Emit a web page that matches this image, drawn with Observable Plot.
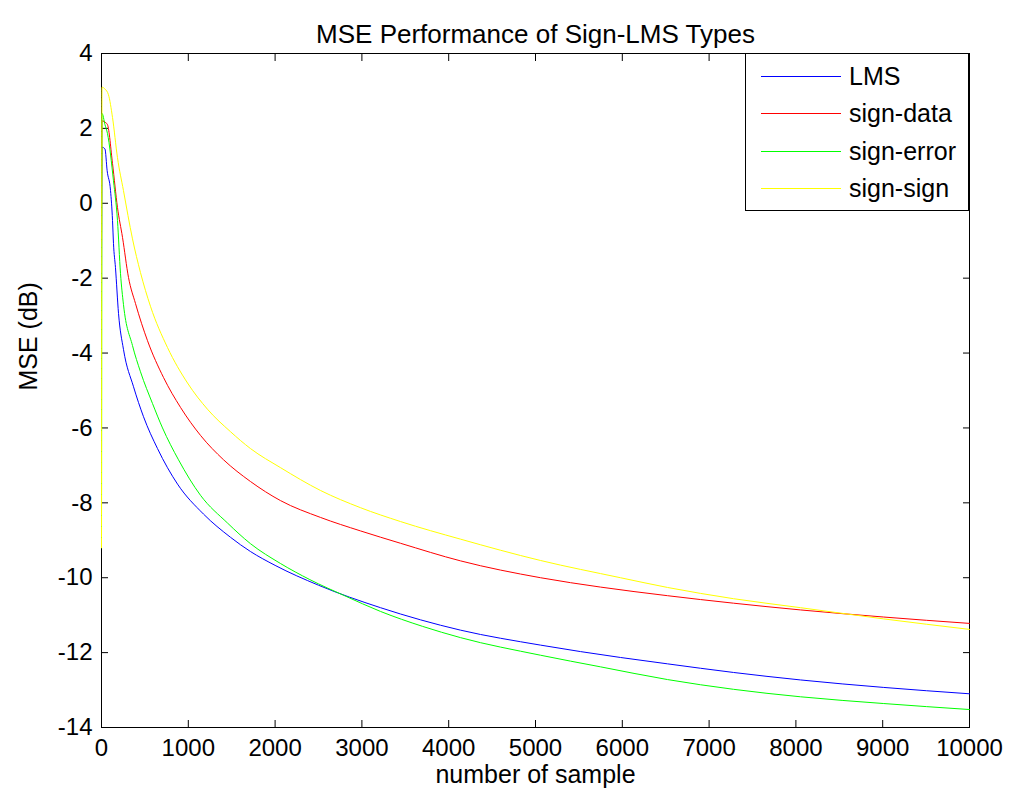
<!DOCTYPE html>
<html>
<head>
<meta charset="utf-8">
<script src="https://cdn.jsdelivr.net/npm/d3@7"></script>
<script src="https://cdn.jsdelivr.net/npm/@observablehq/plot@0.6"></script>
<style>
html, body { margin: 0; padding: 0; background: #fff; }
#wrap { position: relative; width: 1018px; height: 796px; font-family: "Liberation Sans", Arial, Helvetica, sans-serif; }
#legend { position: absolute; left: 745px; top: 53px; width: 224px; height: 158px; border: 1px solid #000; background: #fff; box-sizing: border-box; }
.row { position: absolute; left: 0; height: 0; }
.sw { position: absolute; left: 15px; width: 80px; top: 0; border-top: 1px solid; }
.lab { position: absolute; left: 103px; top: 0; font-size: 25px; line-height: 25px; transform: translateY(-50%); white-space: nowrap; color: #000; }
</style>
</head>
<body>
<div id="wrap"></div>
<script>
// ---- data ----
const titleText = "MSE Performance of Sign-LMS Types";
const xLabel = "number of sample";
const yLabel = "MSE (dB)";
const xTicks = [0, 1000, 2000, 3000, 4000, 5000, 6000, 7000, 8000, 9000, 10000];
const yTicks = [-14, -12, -10, -8, -6, -4, -2, 0, 2, 4];

const seriesNames = ["LMS", "sign-data", "sign-error", "sign-sign"];
const seriesColors = ["#0000ff", "#ff0000", "#00ff00", "#ffff00"];

const lmsSamples = [0, 6, 40, 65, 104, 127, 138, 161, 196, 253, 369, 484, 645, 876, 1175, 1486, 1716, 2000, 2500, 3214, 4136, 5058, 5979, 6521, 7281, 8053, 9012, 10000];
const lmsMSE     = [-2.4, 1.5, 1.45, 0.87, 0.34, -0.46, -1.07, -1.72, -2.94, -3.9, -4.9, -5.7, -6.55, -7.5, -8.3, -8.92, -9.3, -9.67, -10.2, -10.8, -11.4, -11.8, -12.13, -12.3, -12.53, -12.73, -12.93, -13.1];

const signDataSamples = [0, 6, 50, 69, 127, 184, 242, 311, 392, 530, 714, 910, 1141, 1406, 1716, 2062, 2523, 2984, 3445, 4136, 5058, 5749, 6521, 7281, 8053, 9012, 10000];
const signDataMSE     = [-1.0, 2.2, 2.15, 2.1, 1.06, -0.11, -0.91, -1.98, -2.68, -3.67, -4.65, -5.45, -6.2, -6.85, -7.43, -7.94, -8.39, -8.75, -9.08, -9.55, -10.0, -10.25, -10.48, -10.68, -10.86, -11.05, -11.22];

const signErrorSamples = [0, 6, 40, 69, 138, 184, 219, 253, 357, 449, 588, 703, 887, 1141, 1452, 1716, 2062, 2400, 2800, 3214, 3700, 4136, 5058, 5749, 6521, 7281, 8053, 9012, 10000];
const signErrorMSE     = [-9.2, 2.4, 2.1, 1.86, 0.6, -0.46, -1.88, -2.7, -3.8, -4.5, -5.35, -6.0, -6.85, -7.8, -8.54, -9.09, -9.62, -10.05, -10.48, -10.9, -11.3, -11.6, -12.07, -12.38, -12.72, -12.98, -13.18, -13.36, -13.52];

const signSignSamples = [0, 6, 40, 80, 127, 184, 253, 357, 449, 564, 760, 991, 1221, 1486, 1716, 2062, 2523, 2984, 3445, 4136, 5058, 5979, 6521, 7281, 8053, 9012, 10000];
const signSignMSE     = [-9.2, 3.1, 3.05, 2.9, 2.29, 1.22, 0.34, -0.95, -1.85, -2.75, -3.85, -4.8, -5.5, -6.1, -6.55, -7.06, -7.67, -8.13, -8.5, -8.97, -9.54, -10.0, -10.26, -10.56, -10.8, -11.1, -11.38];

const allSamples = [lmsSamples, signDataSamples, signErrorSamples, signSignSamples];
const allMSE = [lmsMSE, signDataMSE, signErrorMSE, signSignMSE];

// ---- build tables ----
const series = seriesNames.map((name, k) => ({
  name,
  color: seriesColors[k],
  data: allSamples[k].map((s, i) => ({s, v: allMSE[k][i]}))
}));

const fmt = d => String(d);
const font = "Liberation Sans, Arial, Helvetica, sans-serif";

const chart = Plot.plot({
  width: 1018,
  height: 796,
  marginTop: 53,
  marginRight: 49,
  marginBottom: 69,
  marginLeft: 101,
  style: {fontFamily: font, fontSize: "24px", color: "#000", background: "#fff", overflow: "visible"},
  x: {domain: [0, 10000]},
  y: {domain: [-14, 4]},
  marks: [
    Plot.frame({stroke: "#000", strokeWidth: 1}),
    // inward ticks on all four sides
    Plot.axisX(xTicks, {anchor: "bottom", tickSize: 7, dy: -7, fill: "none", label: null, stroke: "#000"}),
    Plot.axisX(xTicks, {anchor: "top", tickSize: 7, dy: 7, fill: "none", label: null, stroke: "#000"}),
    Plot.axisY(yTicks, {anchor: "left", tickSize: 7, dx: 7, fill: "none", label: null, stroke: "#000"}),
    Plot.axisY(yTicks, {anchor: "right", tickSize: 7, dx: -7, fill: "none", label: null, stroke: "#000"}),
    // tick labels
    Plot.axisX(xTicks, {anchor: "bottom", tickSize: 0, tickPadding: 11, tickFormat: fmt, label: null, fill: "#000", fontSize: 24}),
    Plot.axisY(yTicks, {anchor: "left", tickSize: 0, tickPadding: 9, tickFormat: fmt, label: null, fill: "#000", fontSize: 24}),
    // data lines
    ...series.map(sr => Plot.line(sr.data, {x: "s", y: "v", stroke: sr.color, strokeWidth: 1, curve: "monotone-x"})),
    // title and axis labels
    Plot.text([titleText], {frameAnchor: "top", dy: -29, fontSize: 26, fill: "#000"}),
    Plot.text([xLabel], {frameAnchor: "bottom", dy: 55, fontSize: 25, fill: "#000"}),
    Plot.text([yLabel], {frameAnchor: "left", rotate: -90, dx: -73, fontSize: 25, fill: "#000"})
  ]
});

const wrap = document.getElementById("wrap");
wrap.appendChild(chart);

// legend inside the axes (top-right)
const legend = document.createElement("div");
legend.id = "legend";
series.forEach((sr, i) => {
  const row = document.createElement("div");
  row.className = "row";
  row.style.top = (21.5 + 37.5 * i) + "px";
  const sw = document.createElement("div");
  sw.className = "sw";
  sw.style.borderTopColor = sr.color;
  const lab = document.createElement("div");
  lab.className = "lab";
  lab.textContent = sr.name;
  row.appendChild(sw);
  row.appendChild(lab);
  legend.appendChild(row);
});
wrap.appendChild(legend);
</script>
</body>
</html>
